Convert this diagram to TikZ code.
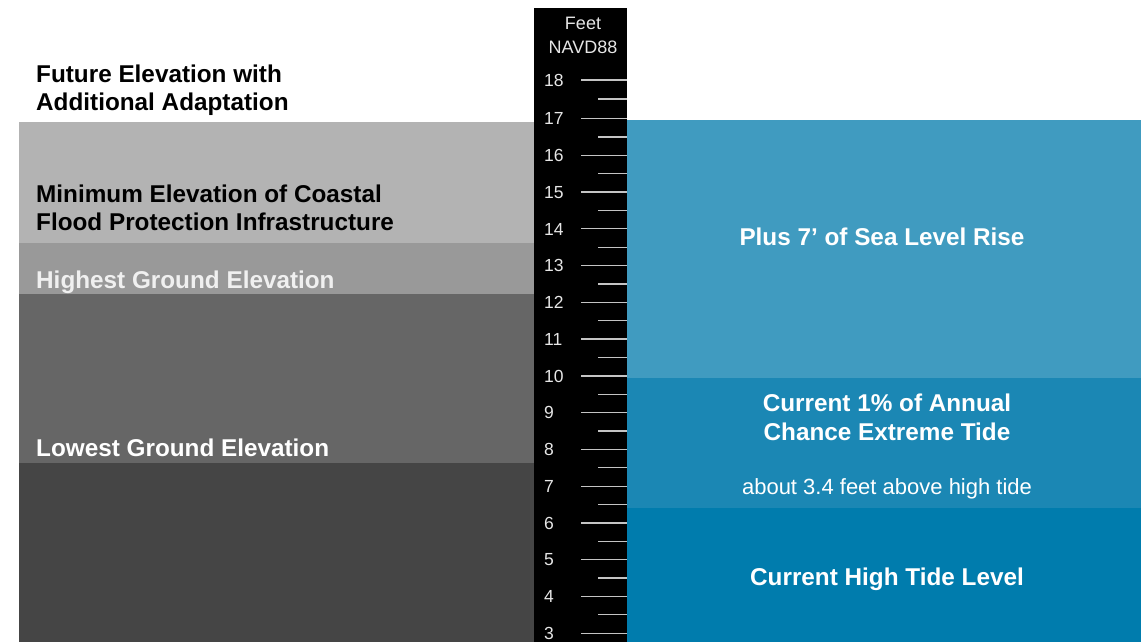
\documentclass[tikz,border=0pt]{standalone}
\usepackage{fontspec}
\setmainfont{Liberation Sans}
\definecolor{grayA}{HTML}{B3B3B3}
\definecolor{grayB}{HTML}{999999}
\definecolor{grayC}{HTML}{666666}
\definecolor{grayD}{HTML}{454545}
\definecolor{blueA}{HTML}{409BC0}
\definecolor{blueB}{HTML}{1B87B4}
\definecolor{blueC}{HTML}{007CAD}
\definecolor{tickgray}{HTML}{C4C4C4}
\definecolor{numgray}{HTML}{E6E6E6}
\begin{document}
\begin{tikzpicture}[x=1pt,y=-1pt,
  darklabel/.style={anchor=base west,inner sep=0pt,font=\fontsize{24.3}{29}\selectfont\bfseries,text=black},
  lightlabel/.style={anchor=base west,inner sep=0pt,font=\fontsize{24.3}{29}\selectfont\bfseries,text=#1},
  sealabel/.style={anchor=base,inner sep=0pt,font=\fontsize{24.3}{29}\selectfont\bfseries,text=white},
  notelabel/.style={anchor=base,inner sep=0pt,font=\fontsize{22}{26}\selectfont,text=white},
  scalenum/.style={anchor=base west,inner sep=0pt,font=\fontsize{17.5}{21}\selectfont,text=numgray},
  scalehead/.style={anchor=base,inner sep=0pt,font=\fontsize{18}{22}\selectfont,text=numgray},
  majortick/.style={draw=tickgray,line width=1.3pt},
  minortick/.style={draw=tickgray,line width=1.3pt}]
\useasboundingbox (0,0) rectangle (1145,642);
\fill[white] (0,0) rectangle (1145,642);

% ground and infrastructure elevations
\fill[grayA] (19,122) rectangle (534,243);
\fill[grayB] (19,243) rectangle (534,294);
\fill[grayC] (19,294) rectangle (534,463);
\fill[grayD] (19,463) rectangle (534,642);

% water levels
\fill[blueA] (627,120) rectangle (1141,378);
\fill[blueB] (627,378) rectangle (1141,508);
\fill[blueC] (627,508) rectangle (1141,642);

% elevation scale
\fill[black] (534,8) rectangle (627,642);
\node[scalehead] (feet) at (583,30) {Feet};
\node[scalehead] (datum) at (583,53) {NAVD88};
\node[scalenum] (n18) at (544,86.3) {18};
\draw[majortick] (581,80) -- (627,80);
\draw[minortick] (598,99) -- (627,99);
\foreach \f in {3,...,17}{
  \pgfmathsetmacro{\yy}{633.2-(\f-3)*36.76}
  \node[scalenum] (n\f) at (544,\yy+6.3) {\f};
  \draw[majortick] (581,\yy) -- (627,\yy);
}
\foreach \f in {3,...,16}{
  \pgfmathsetmacro{\yy}{633.2-(\f-3)*36.76-18.38}
  \draw[minortick] (598,\yy) -- (627,\yy);
}

% labels on the left
\node[darklabel] (future1) at (36,82) {Future Elevation with};
\node[darklabel] (future2) at (36,110) {Additional Adaptation};
\node[darklabel] (minimum1) at (36,202) {Minimum Elevation of Coastal};
\node[darklabel] (minimum2) at (36,230) {Flood Protection Infrastructure};
\node[lightlabel={black!6}] (highest) at (36,288) {Highest Ground Elevation};
\node[lightlabel={white}] (lowest) at (36,456) {Lowest Ground Elevation};

% labels on the right
\node[sealabel] (slr) at (882,245) {Plus 7’ of Sea Level Rise};
\node[sealabel] (extreme1) at (887,411) {Current 1\% of Annual};
\node[sealabel] (extreme2) at (887,440) {Chance Extreme Tide};
\node[notelabel] (above) at (887,494) {about 3.4 feet above high tide};
\node[sealabel] (hightide) at (887,585) {Current High Tide Level};
\end{tikzpicture}
\end{document}
